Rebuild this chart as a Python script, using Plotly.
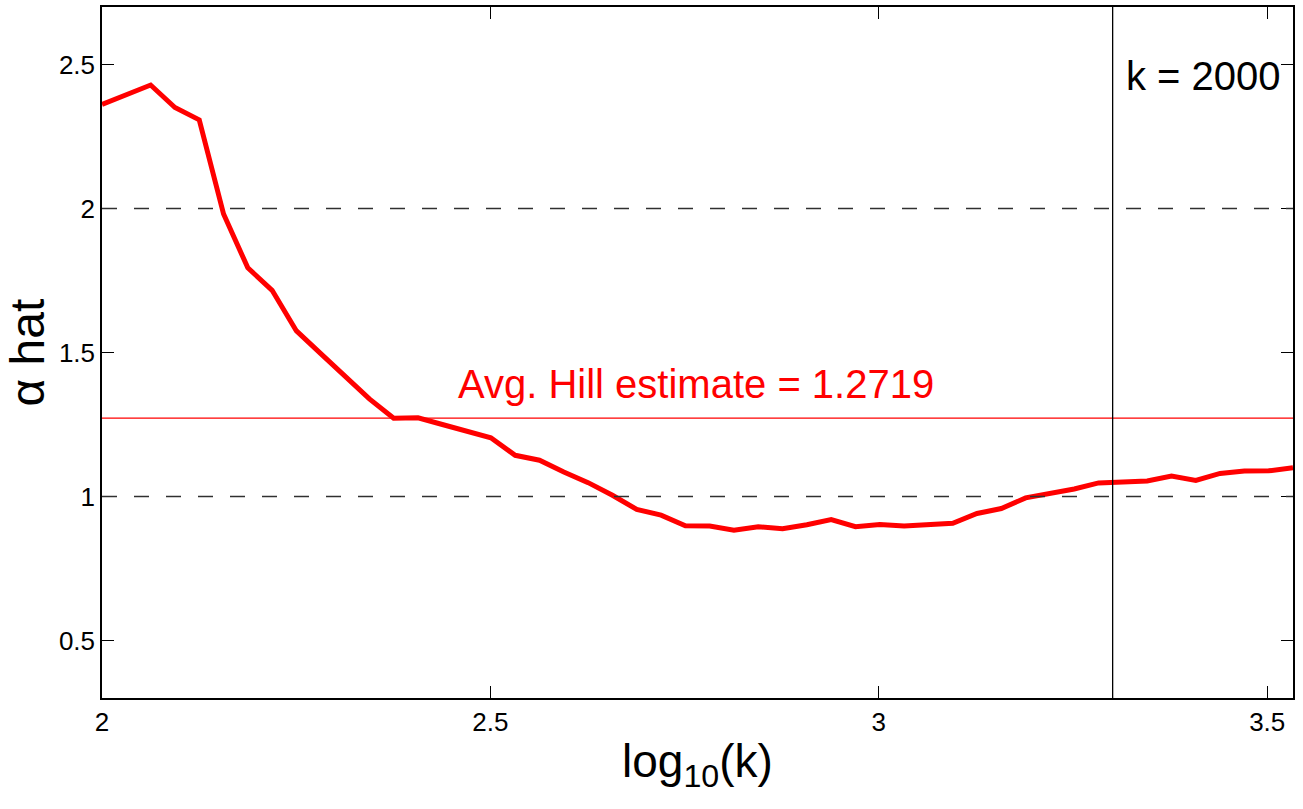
import math
import plotly.graph_objects as go

# log10(k) values and Hill estimates (alpha hat)
log10_k = [2.0000, 2.0313, 2.0626, 2.0939, 2.1252, 2.1565, 2.1877, 2.2190, 2.2503, 2.2816,
           2.3129, 2.3442, 2.3755, 2.4068, 2.4381, 2.4694, 2.5006, 2.5319, 2.5632, 2.5945,
           2.6258, 2.6571, 2.6884, 2.7197, 2.7510, 2.7823, 2.8135, 2.8448, 2.8761, 2.9074,
           2.9387, 2.9700, 3.0013, 3.0326, 3.0639, 3.0952, 3.1264, 3.1577, 3.1890, 3.2203,
           3.2516, 3.2829, 3.3142, 3.3455, 3.3768, 3.4081, 3.4393, 3.4706, 3.5019, 3.5332]
alpha_hat = [2.362, 2.395, 2.429, 2.351, 2.308, 1.981, 1.794, 1.716, 1.575, 1.496,
             1.416, 1.339, 1.272, 1.273, 1.250, 1.227, 1.204, 1.143, 1.126, 1.085,
             1.048, 1.004, 0.955, 0.935, 0.898, 0.897, 0.883, 0.895, 0.888, 0.902,
             0.920, 0.895, 0.903, 0.897, 0.903, 0.907, 0.941, 0.958, 0.995, 1.010,
             1.026, 1.047, 1.050, 1.054, 1.071, 1.056, 1.080, 1.088, 1.089, 1.100]

avg_hill = 1.2719
k_mark = 2000
ref_levels = [1, 2]
x_range = [2, 3.5332]
y_range = [0.3, 2.7]
x_ticks = [2, 2.5, 3, 3.5]
x_ticktext = ["2", "2.5", "3", "3.5"]
y_ticks = [0.5, 1, 1.5, 2, 2.5]
y_ticktext = ["0.5", "1", "1.5", "2", "2.5"]

FONT = "Liberation Sans, Arial, Helvetica, sans-serif"

fig = go.Figure()
fig.add_trace(go.Scatter(x=log10_k, y=alpha_hat, mode="lines",
                         line=dict(color="#ff0000", width=5), showlegend=False))

for lv in ref_levels:
    fig.add_shape(type="line", xref="paper", x0=0, x1=1, yref="y", y0=lv, y1=lv,
                  line=dict(color="#303030", width=1.5, dash="15px,17px"))

fig.add_shape(type="line", xref="paper", x0=0, x1=1, yref="y", y0=avg_hill, y1=avg_hill,
              line=dict(color="#ff0000", width=1.3))

xk = math.log10(k_mark)
fig.add_shape(type="line", xref="x", x0=xk, x1=xk, yref="paper", y0=0, y1=1,
              line=dict(color="black", width=1.3))

fig.add_annotation(x=xk, y=2.462, xref="x", yref="y", text="k = %d" % k_mark,
                   showarrow=False, xanchor="left", yanchor="middle", xshift=11,
                   font=dict(family=FONT, size=40, color="black"))
fig.add_annotation(x=2.765, y=1.389, xref="x", yref="y",
                   text="Avg. Hill estimate = %.4f" % avg_hill,
                   showarrow=False, xanchor="center", yanchor="middle",
                   font=dict(family=FONT, size=40, color="#ff0000"))

# axis titles
fig.add_annotation(x=0.5, y=0, xref="paper", yref="paper", text="log<sub>10</sub>(k)",
                   showarrow=False, xanchor="center", yanchor="top", yshift=-35,
                   font=dict(family=FONT, size=46, color="black"))
fig.add_annotation(x=0, y=0.5, xref="paper", yref="paper", text="α hat",
                   showarrow=False, xanchor="center", yanchor="middle", xshift=-75,
                   textangle=-90, font=dict(family=FONT, size=48, color="black"))

axis_common = dict(showline=True, linecolor="black", linewidth=1.5, mirror="ticks",
                   ticks="inside", ticklen=12, tickwidth=1.2, tickcolor="black",
                   showgrid=False, zeroline=False,
                   tickfont=dict(family=FONT, size=26, color="black"))
fig.update_xaxes(range=x_range, tickvals=x_ticks, ticktext=x_ticktext, **axis_common)
fig.update_yaxes(range=y_range, tickvals=y_ticks, ticktext=y_ticktext, **axis_common)

fig.update_layout(width=1303, height=809, plot_bgcolor="white", paper_bgcolor="white",
                  margin=dict(l=102, r=10, t=5, b=111), showlegend=False)

fig.write_html("out.html", config={"displayModeBar": False},
               post_script="document.body.style.margin='0px';document.body.style.overflow='hidden';")
